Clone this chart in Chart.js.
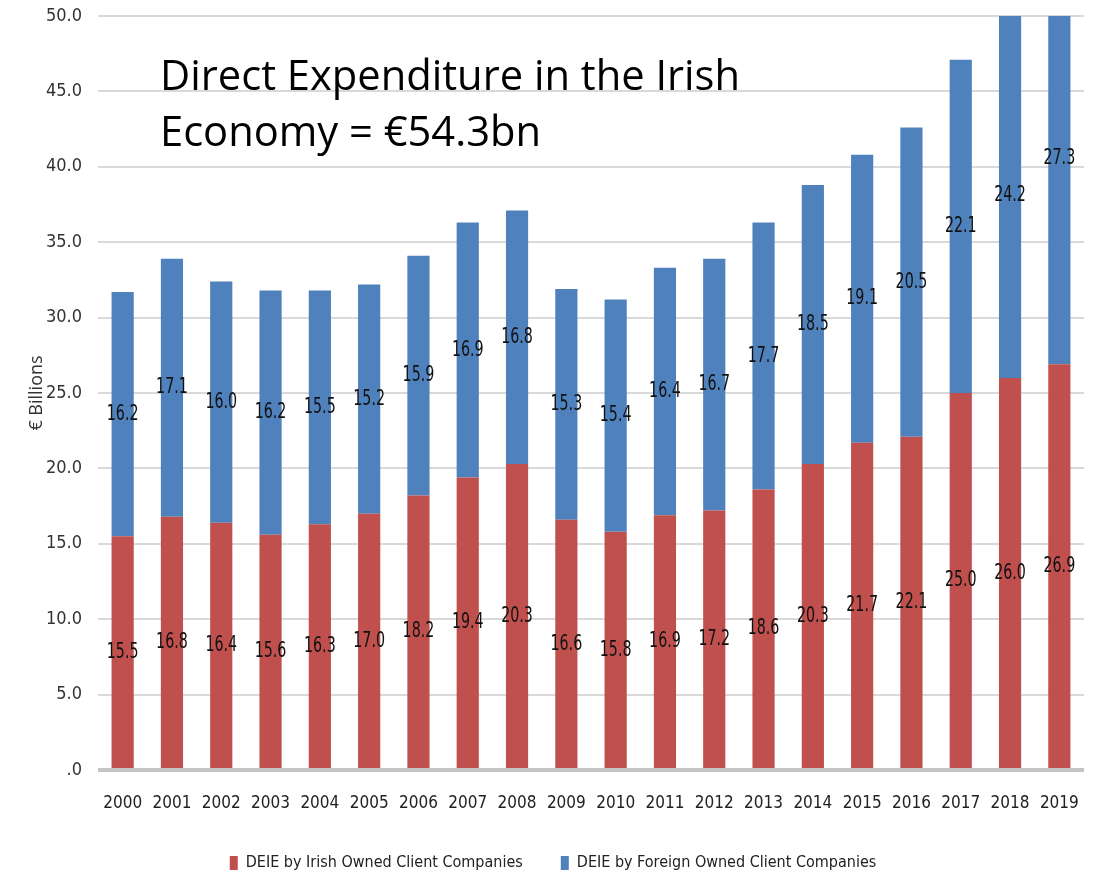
<!DOCTYPE html>
<html>
<head>
<meta charset="utf-8">
<script src="https://cdn.jsdelivr.net/npm/chart.js@4"></script>
<style>
  html, body { margin: 0; padding: 0; background: #fff; }
  #wrap { width: 1104px; height: 876px; }
</style>
</head>
<body>
<div id="wrap"><canvas id="myChart" width="1104" height="876"></canvas></div>
<script>
// data (€ billions)
const years = ['2000', '2001', '2002', '2003', '2004', '2005', '2006', '2007', '2008', '2009',
               '2010', '2011', '2012', '2013', '2014', '2015', '2016', '2017', '2018', '2019'];
const irishOwned = [15.5, 16.8, 16.4, 15.6, 16.3, 17.0, 18.2, 19.4, 20.3, 16.6,
                    15.8, 16.9, 17.2, 18.6, 20.3, 21.7, 22.1, 25.0, 26.0, 26.9];
const foreignOwned = [16.2, 17.1, 16.0, 16.2, 15.5, 15.2, 15.9, 16.9, 16.8, 15.3,
                      15.4, 16.4, 16.7, 17.7, 18.5, 19.1, 20.5, 22.1, 24.2, 27.3];
const titleLines = ['Direct Expenditure in the Irish', 'Economy = €54.3bn'];

const narrow = '"DejaVu Sans Condensed", "Liberation Sans", sans-serif';

// values written in the middle of each bar segment (squeezed like the original)
const segmentLabels = {
    id: 'segmentLabels',
    afterDatasetsDraw(chart) {
        const ctx = chart.ctx;
        ctx.save();
        ctx.font = '22px ' + narrow;
        ctx.fillStyle = '#111';
        ctx.textAlign = 'center';
        ctx.textBaseline = 'middle';
        chart.data.datasets.forEach((ds, i) => {
            const meta = chart.getDatasetMeta(i);
            meta.data.forEach((bar, j) => {
                const y = (bar.y + bar.base) / 2;
                ctx.save();
                ctx.translate(bar.x, y);
                ctx.scale(0.72, 1);
                ctx.fillText(ds.data[j].toFixed(1), 0, 0);
                ctx.restore();
            });
        });
        ctx.restore();
    }
};

// big text in the top-left of the plot
const bigTitle = {
    id: 'bigTitle',
    afterDraw(chart) {
        const ctx = chart.ctx;
        ctx.save();
        ctx.font = '42px "Open Sans", sans-serif';
        ctx.fillStyle = '#000';
        ctx.textBaseline = 'alphabetic';
        const w = ctx.measureText(titleLines[0]).width;
        ctx.translate(160, 0);
        ctx.scale(580 / w, 1);
        ctx.fillText(titleLines[0], 0, 90);
        ctx.fillText(titleLines[1], 0, 146);
        ctx.restore();
    }
};

new Chart(document.getElementById('myChart').getContext('2d'), {
    type: 'bar',
    data: {
        labels: years,
        datasets: [
            {
                label: 'DEIE by Irish Owned Client Companies',
                data: irishOwned,
                backgroundColor: '#C0504D',
                barPercentage: 0.45,
                categoryPercentage: 1.0
            },
            {
                label: 'DEIE by Foreign Owned Client Companies',
                data: foreignOwned,
                backgroundColor: '#4F81BD',
                barPercentage: 0.45,
                categoryPercentage: 1.0
            }
        ]
    },
    options: {
        responsive: false,
        animation: false,
        layout: { padding: { left: 22, top: 16, right: 20, bottom: -5 } },
        plugins: {
            tooltip: { enabled: false },
            legend: {
                position: 'bottom',
                labels: {
                    boxWidth: 8,
                    boxHeight: 14,
                    padding: 38,
                    color: '#222',
                    font: { family: narrow, size: 16 }
                }
            }
        },
        scales: {
            x: {
                stacked: true,
                grid: { display: false },
                border: { display: false },
                afterFit: scale => { scale.height = 47; },
                ticks: {
                    color: '#222',
                    padding: 15,
                    maxRotation: 0,
                    minRotation: 0,
                    autoSkip: false,
                    font: { family: narrow, size: 17 }
                }
            },
            y: {
                stacked: true,
                min: 0,
                max: 50,
                border: { display: false },
                afterFit: scale => {
                    scale.width = 76;
                    scale.paddingTop = 0; // top label fits inside the layout padding
                },
                grid: {
                    drawTicks: false,
                    color: ctx => ctx.tick.value === 0 ? '#c4c4c4' : '#d9d9d9',
                    lineWidth: ctx => ctx.tick.value === 0 ? 4 : 2
                },
                ticks: {
                    stepSize: 5,
                    padding: 16,
                    color: '#333',
                    font: { family: narrow, size: 18 },
                    callback: v => v === 0 ? '.0' : v.toFixed(1)
                },
                title: {
                    display: true,
                    text: '€ Billions',
                    color: '#333',
                    font: { family: '"Open Sans", sans-serif', size: 18 }
                }
            }
        }
    },
    plugins: [segmentLabels, bigTitle]
});
</script>
</body>
</html>
